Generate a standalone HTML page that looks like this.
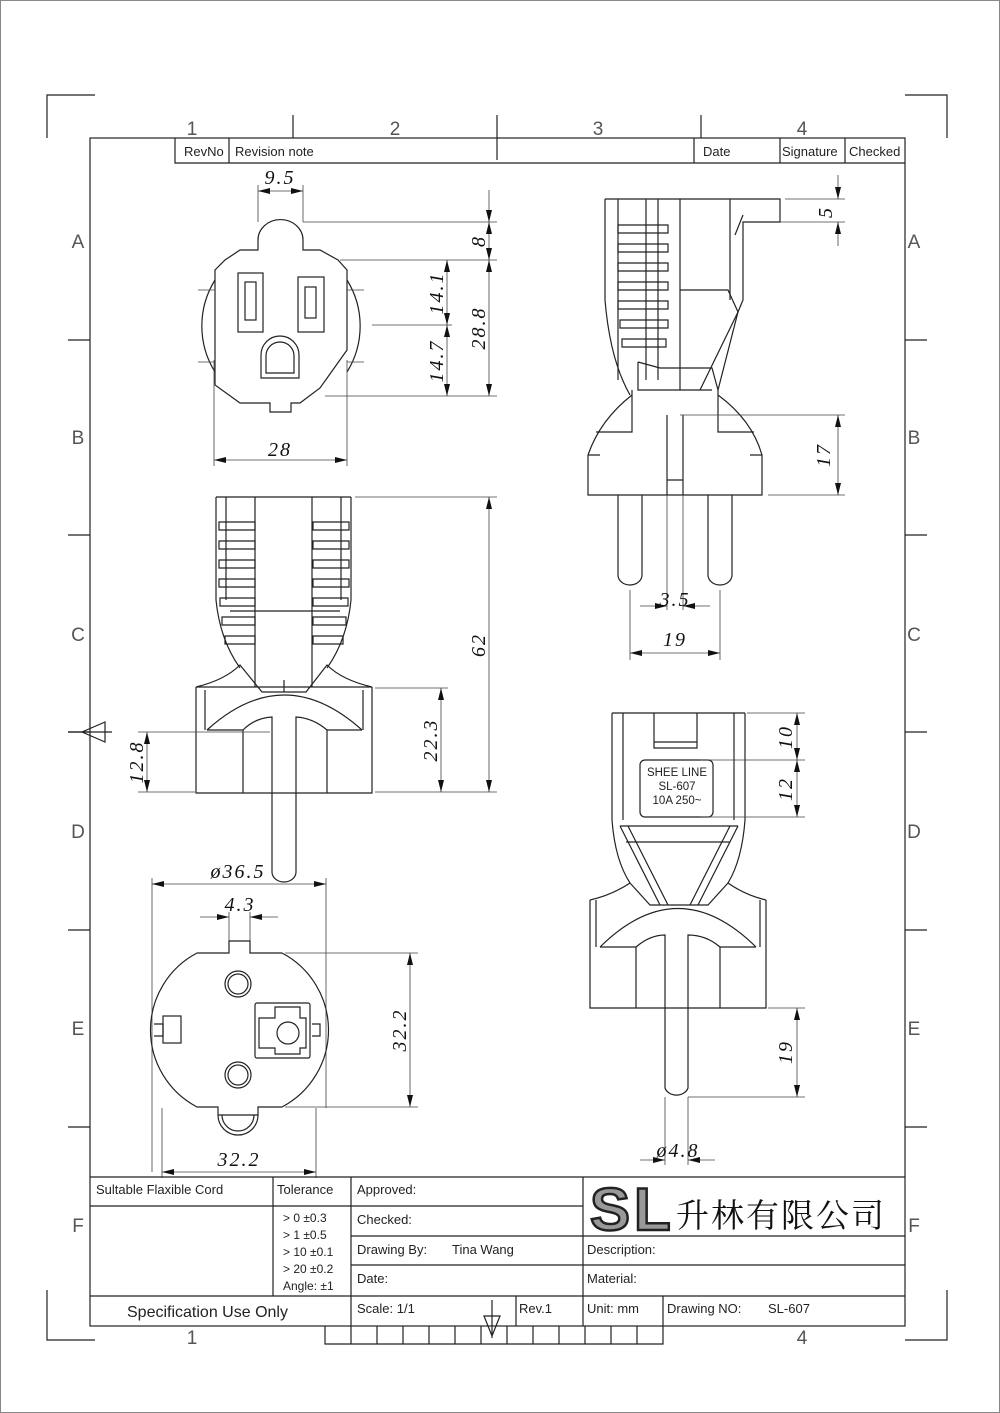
<!DOCTYPE html>
<html><head><meta charset="utf-8"><style>
html,body{margin:0;padding:0;background:#fff}
svg{display:block}
.l{stroke:#222;stroke-width:1.2;fill:none}
.t{stroke:#444;stroke-width:0.8;fill:none}
.d{font-family:"Liberation Serif",serif;font-style:italic;font-size:20px;fill:#111;text-anchor:middle;letter-spacing:2px}
.s{font-family:"Liberation Sans",sans-serif;font-size:13px;fill:#222}
.z{font-family:"Liberation Sans",sans-serif;font-size:19px;fill:#555;text-anchor:middle;font-weight:300}
</style></head><body>
<svg width="1000" height="1413" viewBox="0 0 1000 1413" xmlns="http://www.w3.org/2000/svg">
<defs>
<marker id="a" viewBox="0 0 12 6" refX="12" refY="3" markerWidth="12" markerHeight="6" orient="auto-start-reverse" markerUnits="userSpaceOnUse"><path d="M0,0 L12,3 L0,6z" fill="#111"/></marker>
</defs>
<rect x="0.5" y="0.5" width="999" height="1412" fill="none" stroke="#888"/>
<g class="l">
<path d="M47,138 V95 H95"/><path d="M905,95 H947 V138"/><path d="M47,1290 V1340 H95"/><path d="M905,1340 H947 V1290"/>
<rect x="90" y="138" width="815" height="1188"/>
<path d="M293,115V138M497,115V160M701,115V138"/>
<path d="M68,340H90M68,535H90M68,732H90M68,930H90M68,1127H90"/>
<path d="M905,340H927M905,535H927M905,732H927M905,930H927M905,1127H927"/>
<path d="M175,138V163H905M229,138V163M694,138V163M780,138V163M845,138V163"/>
</g>
<g class="z"><text x="192" y="135">1</text><text x="395" y="135">2</text><text x="598" y="135">3</text><text x="802" y="135">4</text>
<text x="192" y="1344">1</text><text x="802" y="1344">4</text>
<text x="78" y="248">A</text><text x="78" y="444">B</text><text x="78" y="641">C</text><text x="78" y="838">D</text><text x="78" y="1035">E</text><text x="78" y="1232">F</text>
<text x="914" y="248">A</text><text x="914" y="444">B</text><text x="914" y="641">C</text><text x="914" y="838">D</text><text x="914" y="1035">E</text><text x="914" y="1232">F</text></g>
<g class="s"><text x="184" y="156">RevNo</text><text x="235" y="156">Revision note</text><text x="703" y="156">Date</text><text x="782" y="156">Signature</text><text x="849" y="156">Checked</text></g>

<g class="l">
<path d="M258,250 V240 A22,20 0 0 1 303,240 V250 H320 L338,260 L347,270 V350 L320,388 L300,403 H291 V412 H270 V403 H240 L215,385 V270 L225,260 L240,250 Z"/>
<path d="M215,280 A87,87 0 0 0 215,372"/><path d="M347,280 A87,87 0 0 1 347,372"/>
<path d="M198,290H215M198,362H215M347,290H364M347,362H364" class="t"/>
<rect x="238" y="273" width="25" height="59"/><rect x="245" y="282" width="11" height="38"/>
<rect x="298" y="277" width="26" height="55"/><rect x="305" y="287" width="11" height="31"/>
<path d="M261,378 V355 A19,19 0 0 1 299,355 V378 Z"/><path d="M266,373 V356 A14,14 0 0 1 294,356 V373 Z"/>
</g>
<g class="t">
<path d="M258,185V222M303,185V222M303,222H497M340,260H497M372,325H452M325,396H497M214,360V466M347,360V466"/>
</g>
<g class="t" stroke="#111">
<line x1="258" y1="191" x2="303" y2="191" marker-start="url(#a)" marker-end="url(#a)"/>
<line x1="489" y1="190" x2="489" y2="222" marker-end="url(#a)"/>
<line x1="489" y1="222" x2="489" y2="260" marker-start="url(#a)" marker-end="url(#a)"/>
<line x1="489" y1="260" x2="489" y2="396" marker-start="url(#a)" marker-end="url(#a)"/>
<line x1="447" y1="260" x2="447" y2="325" marker-start="url(#a)" marker-end="url(#a)"/>
<line x1="447" y1="325" x2="447" y2="396" marker-start="url(#a)" marker-end="url(#a)"/>
<line x1="214" y1="460" x2="347" y2="460" marker-start="url(#a)" marker-end="url(#a)"/>
</g>
<text class="d" x="280" y="184">9.5</text><text class="d" x="280" y="456">28</text>
<text class="d" transform="translate(485,241) rotate(-90)">8</text>
<text class="d" transform="translate(485,328) rotate(-90)">28.8</text>
<text class="d" transform="translate(443,293) rotate(-90)">14.1</text>
<text class="d" transform="translate(443,361) rotate(-90)">14.7</text>

<g class="l">
<path d="M605,199 H780 V222 H743 V300 L738,312 L718,390"/>
<path d="M605,199 V300 Q610,360 630,395"/>
<path d="M618,199V380M646,199V380M658,199V380M680,199V390M730,199V300"/>
<path d="M743,215 L735,235"/>
<path d="M618,225h50v8h-50zM618,244h50v8h-50zM618,263h50v8h-50zM618,282h50v8h-50zM618,301h50v8h-50zM620,320h48v8h-48zM622,339h44v8h-44z"/>
<path d="M680,290 L728,290 L738,312 L700,390"/>
<path d="M638,362 L660,368 H712 L718,390"/>
<path d="M638,362 V390 H712"/>
<path d="M588,455 Q600,420 632,395 M762,455 Q752,420 718,395"/>
<path d="M588,455 V495 H762 V455 M588,455H600M750,455H762"/>
<path d="M632,390 V432 H596 M718,390 V432 H754"/>
<path d="M667,415 V495 M683,415 V495 M667,480H683"/>
<path d="M618,495 V575 A12,10 0 0 0 642,575 V495 M708,495 V575 A12,10 0 0 0 732,575 V495"/>
</g>
<g class="t"><path d="M785,199H845M780,222H845M680,415H845M768,495H845M667,495V610M683,495V610M630,590V660M720,590V660"/></g>
<g class="t" stroke="#111">
<line x1="838" y1="175" x2="838" y2="199" marker-end="url(#a)"/>
<line x1="838" y1="246" x2="838" y2="222" marker-end="url(#a)"/>
<line x1="838" y1="415" x2="838" y2="495" marker-start="url(#a)" marker-end="url(#a)"/>
<line x1="640" y1="606" x2="667" y2="606" marker-end="url(#a)"/>
<line x1="710" y1="606" x2="683" y2="606" marker-end="url(#a)"/>
<line x1="630" y1="653" x2="720" y2="653" marker-start="url(#a)" marker-end="url(#a)"/>
</g>
<text class="d" transform="translate(832,212) rotate(-90)">5</text>
<text class="d" transform="translate(830,455) rotate(-90)">17</text>
<text class="d" x="675" y="606">3.5</text><text class="d" x="675" y="646">19</text>

<g class="l">
<path d="M216,497 H351 M216,497 V600 Q220,640 240,668 M351,497 V600 Q347,640 327,668"/>
<path d="M226,497V600M255,497V687M312,497V687M341,497V600"/>
<path d="M219,522h36v8h-36zM219,541h36v8h-36zM219,560h36v8h-36zM219,579h36v8h-36zM220,598h35v8h-35zM222,617h33v8h-33zM225,636h30v8h-30z"/>
<path d="M313,522h36v8h-36zM313,541h36v8h-36zM313,560h36v8h-36zM313,579h36v8h-36zM313,598h35v8h-35zM313,617h33v8h-33zM313,636h30v8h-30z"/>
<path d="M230,611H340"/>
<path d="M196,687 Q225,680 240,665 L262,692 H306 L327,665 Q342,680 372,687 Z"/>
<path d="M196,687 V793 H372 V687 M205,690 V730 M363,690 V730"/>
<path d="M207,730 Q284,660 362,730"/><path d="M207,730H243M327,730H362"/>
<path d="M243,793 V730 Q255,718 272,717 V793 M327,793 V730 Q313,718 296,717 V793 M284,680V692"/>
<path d="M272,793 V872 A12,10 0 0 0 296,872 V793"/>
<path d="M68,732H112 M105,722 L82,732 L105,742 Z"/>
</g>
<g class="t"><path d="M355,497H497M375,792H497M375,688H448M138,732H270M138,792H195M152,878V1172M326,878V1108M162,1108V1178M316,1108V1178M229,912V941M250,912V941M285,953H418M285,1107H418"/></g>
<g class="t" stroke="#111">
<line x1="489" y1="497" x2="489" y2="792" marker-start="url(#a)" marker-end="url(#a)"/>
<line x1="441" y1="688" x2="441" y2="792" marker-start="url(#a)" marker-end="url(#a)"/>
<line x1="147" y1="732" x2="147" y2="792" marker-start="url(#a)" marker-end="url(#a)"/>
<line x1="152" y1="884" x2="326" y2="884" marker-start="url(#a)" marker-end="url(#a)"/>
<line x1="200" y1="917" x2="229" y2="917" marker-end="url(#a)"/>
<line x1="278" y1="917" x2="250" y2="917" marker-end="url(#a)"/>
<line x1="410" y1="953" x2="410" y2="1107" marker-start="url(#a)" marker-end="url(#a)"/>
<line x1="162" y1="1172" x2="316" y2="1172" marker-start="url(#a)" marker-end="url(#a)"/>
</g>
<text class="d" transform="translate(485,645) rotate(-90)">62</text>
<text class="d" transform="translate(437,740) rotate(-90)">22.3</text>
<text class="d" transform="translate(143,762) rotate(-90)">12.8</text>
<text class="d" x="238" y="878">ø36.5</text><text class="d" x="240" y="911">4.3</text>
<text class="d" transform="translate(406,1030) rotate(-90)">32.2</text>
<text class="d" x="239" y="1166">32.2</text>

<g class="l">
<path d="M197,953 H229 V941 H250 V953 H282 A87,87 0 0 1 282,1107 H258 V1115 H218 V1107 H197 A87,87 0 0 1 197,953 Z"/>
<path d="M218,1115 A20,20 0 0 0 258,1115 M222,1115 A16,16 0 0 0 254,1115"/>
<circle cx="238" cy="984" r="13"/><circle cx="238" cy="984" r="10"/>
<circle cx="238" cy="1075" r="13"/><circle cx="238" cy="1075" r="10"/>
<rect x="255" y="1003" width="55" height="55" rx="2"/>
<path d="M259,1018 H275 V1007 H300 V1018 H306 V1048 H300 V1054 H275 V1048 H259Z"/>
<circle cx="288" cy="1033" r="11"/>
<rect x="163" y="1016" width="18" height="27"/><path d="M154,1024H163V1036H154M312,1024H320V1036H312"/>
</g>

<g class="l">
<path d="M612,713 H745 M612,713 V820 Q615,860 630,883 M745,713 V820 Q742,860 728,883"/>
<path d="M623,713V820M734,713V820"/>
<path d="M654,713 V748 H697 V713 M654,742 H697"/>
<rect x="640" y="760" width="73" height="57" rx="5"/>
<path d="M620,826 H738 M626,842 H730 M620,826 L660,905 M628,826 L668,905 M738,826 L698,905 M730,826 L690,905"/>
<path d="M590,900 Q612,895 630,883 L650,905 H708 L728,883 Q745,895 766,900"/>
<path d="M590,900 V1008 H766 V900 M596,900V947 M760,900V947"/>
<path d="M600,947 Q678,870 756,947 M600,947H636 M720,947H756"/>
<path d="M636,1008 V947 Q650,935 665,935 V1008 M720,1008 V947 Q706,935 688,935 V1008"/>
<path d="M665,1008 V1088 A12,10 0 0 0 688,1088 V1008"/>
</g>
<g class="s" style="font-size:11.5px" text-anchor="middle"><text x="677" y="776">SHEE LINE</text><text x="677" y="790">SL-607</text><text x="677" y="804">10A 250~</text></g>
<g class="t"><path d="M747,713H805M700,760H805M700,817H805M768,1008H805M688,1097H805M665,1097V1165M688,1097V1165"/></g>
<g class="t" stroke="#111">
<line x1="797" y1="713" x2="797" y2="760" marker-start="url(#a)" marker-end="url(#a)"/>
<line x1="797" y1="760" x2="797" y2="817" marker-start="url(#a)" marker-end="url(#a)"/>
<line x1="797" y1="1008" x2="797" y2="1097" marker-start="url(#a)" marker-end="url(#a)"/>
<line x1="640" y1="1160" x2="665" y2="1160" marker-end="url(#a)"/>
<line x1="715" y1="1160" x2="688" y2="1160" marker-end="url(#a)"/>
</g>
<text class="d" transform="translate(792,737) rotate(-90)">10</text>
<text class="d" transform="translate(792,789) rotate(-90)">12</text>
<text class="d" transform="translate(792,1052) rotate(-90)">19</text>
<text class="d" x="678" y="1157">ø4.8</text>

<g class="l">
<path d="M90,1177H905M90,1206H583M273,1177V1296M351,1177V1326M583,1177V1326M351,1236H905M351,1265H905M90,1296H905M516,1296V1326M663,1296V1326"/>
<path d="M325,1326V1344H663V1326M351,1326V1344M377,1326V1344M403,1326V1344M429,1326V1344M455,1326V1344M481,1326V1344M507,1326V1344M533,1326V1344M559,1326V1344M585,1326V1344M611,1326V1344M637,1326V1344"/>
<path d="M492,1300V1338M484,1316H500L492,1336Z"/>
</g>
<g class="s">
<text x="96" y="1194">Sultable Flaxible Cord</text><text x="277" y="1194">Tolerance</text>
<text x="357" y="1194">Approved:</text><text x="357" y="1224">Checked:</text>
<text x="357" y="1254">Drawing By:</text><text x="452" y="1254">Tina Wang</text>
<text x="357" y="1283">Date:</text><text x="587" y="1254">Description:</text><text x="587" y="1283">Material:</text>
<g style="font-size:12px"><text x="283" y="1222">&gt; 0  ±0.3</text><text x="283" y="1239">&gt; 1  ±0.5</text><text x="283" y="1256">&gt; 10  ±0.1</text><text x="283" y="1273">&gt; 20  ±0.2</text><text x="283" y="1290">Angle: ±1</text></g>
<text x="127" y="1317" style="font-size:16px">Specification Use Only</text>
<text x="357" y="1313">Scale:   1/1</text><text x="519" y="1313">Rev.1</text>
<text x="587" y="1313">Unit:   mm</text><text x="667" y="1313">Drawing NO:</text><text x="768" y="1313">SL-607</text>
</g>
<text x="590" y="1230" style="font-family:'Liberation Sans',sans-serif;font-size:60px;font-weight:bold;fill:#999;stroke:#222;stroke-width:2.5;letter-spacing:4px">SL</text>
<text x="676" y="1227" style="font-family:'Liberation Sans','Noto Serif CJK SC','Noto Sans CJK SC',serif;font-size:33px;fill:#111;letter-spacing:2px">升林有限公司</text>
</svg>
</body></html>
